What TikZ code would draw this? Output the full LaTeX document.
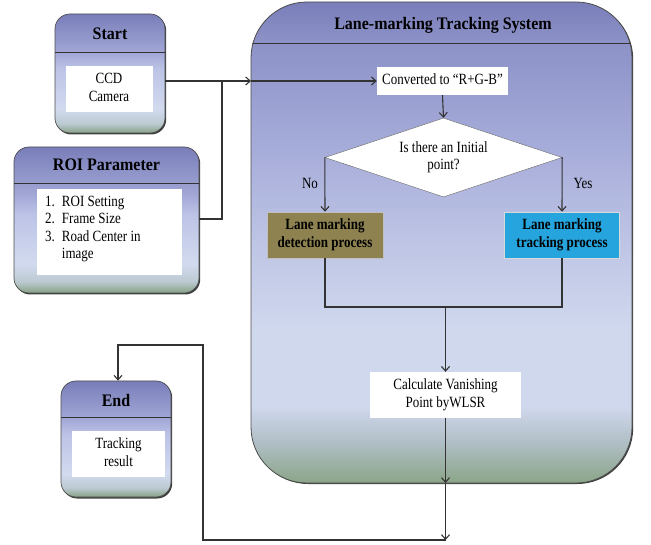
\documentclass[tikz,border=0pt]{standalone}
\usepackage{fontspec}
\setmainfont{Liberation Serif}
\usepackage{graphicx}
\usetikzlibrary{arrows.meta,shapes.geometric,shadows}

\definecolor{lineC}{HTML}{333333}
\definecolor{bxT}{HTML}{797EBA}
\definecolor{bxH}{HTML}{A1A6D5}
\definecolor{bxM}{HTML}{BCC3E6}
\definecolor{bxL}{HTML}{D2DAEF}
\definecolor{bxGL}{HTML}{BCCAD2}
\definecolor{bxG}{HTML}{88A186}
\definecolor{syT}{HTML}{7A7EBA}
\definecolor{syH}{HTML}{8C91C7}
\definecolor{syM}{HTML}{A6ACD9}
\definecolor{syM2}{HTML}{C0C7E6}
\definecolor{syL}{HTML}{D0D8EE}
\definecolor{syGL}{HTML}{AEBDC2}
\definecolor{syG}{HTML}{8BA588}
\definecolor{detC}{HTML}{8E8250}
\definecolor{trkC}{HTML}{25A4DE}

\pgfdeclareverticalshading{boxshade}{100bp}{color(0bp)=(bxG); color(25bp)=(bxG); color(29bp)=(bxGL); color(35bp)=(bxL); color(52bp)=(bxM); color(59bp)=(bxH); color(75bp)=(bxT); color(100bp)=(bxT)}
\pgfdeclareverticalshading{sysshade}{100bp}{color(0bp)=(syG); color(25bp)=(syG); color(29bp)=(syGL); color(33bp)=(syL); color(41bp)=(syL); color(49bp)=(syM2); color(60bp)=(syM); color(71bp)=(syH); color(75bp)=(syT); color(100bp)=(syT)}

\newcommand{\bodyfont}{\fontsize{13}{14.5}\selectfont}
\newcommand{\titlefont}{\fontsize{16}{19}\selectfont\bfseries}
\newcommand{\vst}[1]{\scalebox{1}[1.2]{\begin{tabular}{@{}c@{}}#1\end{tabular}}}

\begin{document}
\begin{tikzpicture}[x=1pt,y=-1pt,
  conn/.style={draw=lineC, line width=1.1pt},
  arr/.style={conn, -{Straight Barb[length=4.5pt,width=8pt]}},
  frame/.style={draw=black!70, line width=0.7pt, shade, shading=boxshade, rounded corners=15pt, inner sep=0pt,
    general shadow={fill=black!75, shadow xshift=1.2pt, shadow yshift=-1.5pt}},
  inbox/.style={fill=white, inner sep=0pt, align=center, font=\bodyfont},
  ttl/.style={font=\titlefont, inner sep=0pt},
  lbl/.style={font=\bodyfont, inner sep=0pt},
  hline/.style={draw=black!80, line width=0.9pt}
]
\useasboundingbox (0,0) rectangle (651,545);

% ---- big system container
\node[draw=black!70, line width=0.8pt, shade, shading=sysshade, rounded corners=56pt,
      minimum width=381pt, minimum height=481pt, inner sep=0pt,
      general shadow={fill=black!75, shadow xshift=1.2pt, shadow yshift=-1pt}] (sys) at (441.5,242.5) {};
\begin{scope}
  \clip[rounded corners=56pt] (sys.north west) rectangle (sys.south east);
  \draw[hline] (251,43) -- (632,43);
\end{scope}
\node[ttl] (systitle) at (443,25) {\scalebox{1}[1.1]{Lane-marking Tracking System}};

% ---- Start
\node[frame, minimum width=110pt, minimum height=119pt] (start) at (110,73.5) {};
\draw[hline] (55,52) -- (165,52);
\node[ttl] (starttitle) at (110,34) {\scalebox{1}[1.1]{Start}};
\node[inbox, minimum width=87pt, minimum height=46pt] (cam) at (109,89) {\vst{CCD\\Camera}};

% ---- ROI Parameter
\node[frame, minimum width=185pt, minimum height=146pt] (roi) at (106.5,220) {};
\draw[hline] (14,183) -- (199,183);
\node[ttl] (roititle) at (106.5,165) {\scalebox{1}[1.1]{ROI Parameter}};
\node[inbox, minimum width=145pt, minimum height=86pt] (roiin) at (109.5,232) {};
\node[lbl, anchor=west] (roitext) at (45,229) {\scalebox{1}[1.2]{\begin{tabular}{@{}l@{\hspace{7pt}}l@{}}1. & ROI Setting\\ 2. & Frame Size\\ 3. & Road Center in\\ & image\end{tabular}}};

% ---- End
\node[frame, minimum width=110pt, minimum height=116pt] (end) at (116,439) {};
\draw[hline] (61,417) -- (171,417);
\node[ttl] (endtitle) at (116,400) {\scalebox{1}[1.1]{End}};
\node[inbox, minimum width=93pt, minimum height=46pt] (res) at (118.5,454) {\vst{Tracking\\result}};

% ---- inner flow
\node[inbox, minimum width=131pt, minimum height=28pt] (conv) at (442.5,81) {\vst{Converted to “R+G-B”}};
\node[diamond, draw=black!60, fill=white, aspect=3, inner sep=0pt, font=\bodyfont,
      minimum width=237pt, minimum height=79pt] (dia) at (443.5,157.5) {\vst{Is there an Initial\\point?}};
\node[fill=detC, draw=black!25, line width=0.5pt, inner sep=0pt, align=center, font=\bodyfont\bfseries,
      minimum width=116pt, minimum height=46pt] (det) at (325,235) {\vst{Lane marking\\detection process}};
\node[fill=trkC, draw=black!15, line width=0.5pt, inner sep=0pt, align=center, font=\bodyfont\bfseries,
      minimum width=115pt, minimum height=46pt] (trk) at (562,235) {\vst{Lane marking\\tracking process}};
\node[inbox, minimum width=151pt, minimum height=46pt] (calc) at (445.5,395) {\vst{Calculate Vanishing\\Point byWLSR}};
\node[lbl] (no) at (310,183) {\scalebox{1}[1.2]{No}};
\node[lbl] (yes) at (583,183) {\scalebox{1}[1.2]{Yes}};

% ---- connectors
\coordinate (j1) at (222,81);
\coordinate (j2) at (222,219);
\coordinate (sysin) at (251,81);
\draw[conn] (roi.east |- j2) -- (j2) -- (j1);
\draw[arr] (start.east |- j1) -- (sysin);
\draw[arr] (sysin) -- (conv.west);
\draw[arr] (conv.south) -- (dia.north);
\draw[arr] (dia.west) -- (det.north);
\draw[arr] (dia.east) -- (trk.north);
\coordinate (m) at (445.5,307);
\draw[conn] (det.south) |- (m) -| (trk.south);
\draw[arr] (m) -- (calc.north);
\coordinate (sysbot) at (445.5,483);
\coordinate (b1) at (445.5,540);
\coordinate (b2) at (203,540);
\coordinate (b3) at (203,345);
\coordinate (b4) at (118,345);
\draw[arr] (calc.south) -- (sysbot);
\draw[arr] (sysbot) -- (b1);
\draw[arr] (b1) -- (b2) -- (b3) -- (b4) -- (b4 |- end.north);
\end{tikzpicture}
\end{document}
